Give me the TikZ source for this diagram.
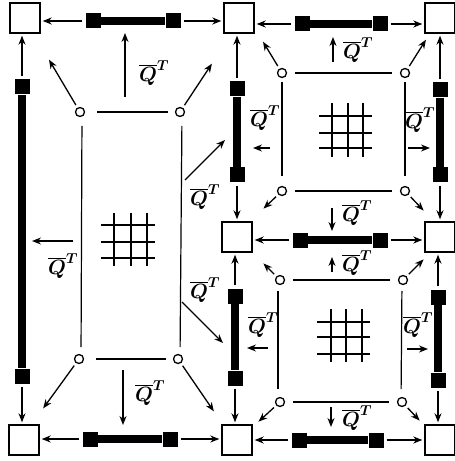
\documentclass[tikz,border=0pt]{standalone}
\usetikzlibrary{arrows.meta}
\begin{document}
\begin{tikzpicture}[x=1bp,y=-1bp,
 sq/.style={draw,line width=1.4bp,minimum size=30bp,inner sep=0pt},
 endcap/.style={fill=black,minimum size=15bp,inner sep=0pt},
 barline/.style={line width=8bp},
 circ/.style={draw,circle,line width=1.3bp,minimum size=9bp,inner sep=0pt},
 arr/.style={-{Stealth[length=9bp,width=7bp]},line width=1.3bp,shorten <=3bp,shorten >=2bp},
 lnk/.style={line width=1.2bp,shorten <=8bp,shorten >=8bp},
 gridl/.style={line width=1.8bp},
 lab/.style={inner sep=0pt,font=\fontsize{20}{20}\selectfont\boldmath},
]
\useasboundingbox (0,0) rectangle (455,461);
% squares
\node[sq] (sA1) at (25,18) {};
\node[sq] (sA2) at (239,18) {};
\node[sq] (sA3) at (440,18) {};
\node[sq] (sB2) at (237,237) {};
\node[sq] (sB3) at (440,237) {};
\node[sq] (sC1) at (24,440) {};
\node[sq] (sC2) at (237,440) {};
\node[sq] (sC3) at (440,440) {};
% bars
\node[endcap] (b1a) at (93,21) {};  \node[endcap] (b1b) at (173,21) {};
\node[endcap] (b2a) at (22,87) {};  \node[endcap] (b2b) at (22,376) {};
\node[endcap] (b3a) at (90,439) {}; \node[endcap] (b3b) at (170,439) {};
\node[endcap] (b4a) at (302,24) {}; \node[endcap] (b4b) at (380,24) {};
\node[endcap] (b5a) at (300,240) {}; \node[endcap] (b5b) at (380,240) {};
\node[endcap] (b6a) at (299,440) {}; \node[endcap] (b6b) at (376,440) {};
\node[endcap] (b7a) at (237,89) {}; \node[endcap] (b7b) at (237,175) {};
\node[endcap] (b8a) at (440,90) {}; \node[endcap] (b8b) at (440,175) {};
\node[endcap] (b9a) at (235,296) {}; \node[endcap] (b9b) at (235,378) {};
\node[endcap] (b10a) at (438,297) {}; \node[endcap] (b10b) at (438,380) {};
\foreach \n in {1,...,10} {\draw[barline] (b\n a) -- (b\n b);}
% bar to square arrows
\draw[arr] (b1a.west) -- (b1a.west -| sA1.east);
\draw[arr] (b1b.east) -- (b1b.east -| sA2.west);
\draw[arr] (b2a.north) -- (b2a.north |- sA1.south);
\draw[arr] (b2b.south) -- (b2b.south |- sC1.north);
\draw[arr] (b3a.west) -- (b3a.west -| sC1.east);
\draw[arr] (b3b.east) -- (b3b.east -| sC2.west);
\draw[arr] (b4a.west) -- (b4a.west -| sA2.east);
\draw[arr] (b4b.east) -- (b4b.east -| sA3.west);
\draw[arr] (b5a.west) -- (b5a.west -| sB2.east);
\draw[arr] (b5b.east) -- (b5b.east -| sB3.west);
\draw[arr] (b6a.west) -- (b6a.west -| sC2.east);
\draw[arr] (b6b.east) -- (b6b.east -| sC3.west);
\draw[arr] (b7a.north) -- (b7a.north |- sA2.south);
\draw[arr] (b7b.south) -- (b7b.south |- sB2.north);
\draw[arr] (b8a.north) -- (b8a.north |- sA3.south);
\draw[arr] (b8b.south) -- (b8b.south |- sB3.north);
\draw[arr] (b9a.north) -- (b9a.north |- sB2.south);
\draw[arr] (b9b.south) -- (b9b.south |- sC2.north);
\draw[arr] (b10a.north) -- (b10a.north |- sB3.south);
\draw[arr] (b10b.south) -- (b10b.south |- sC3.north);
% circles
\node[circ] (L1) at (80,112) {};  \node[circ] (L2) at (180,112) {};
\node[circ] (L3) at (79,359) {};  \node[circ] (L4) at (178,359) {};
\node[circ] (U1) at (282,73) {};  \node[circ] (U2) at (405,73) {};
\node[circ] (U3) at (282,191) {}; \node[circ] (U4) at (405,191) {};
\node[circ] (D1) at (280,280) {}; \node[circ] (D2) at (403,280) {};
\node[circ] (D3) at (280,402) {}; \node[circ] (D4) at (402,402) {};
% cell edges
\draw[lnk,shorten <=12bp,shorten >=7bp] (L1) -- (L2);
\draw[lnk,shorten <=12bp,shorten >=7bp] (L3) -- (L4);
\draw[lnk,shorten <=14bp,shorten >=12bp] ([xshift=2bp]L1.center) -- ([xshift=2bp]L3.center);
\draw[lnk,shorten <=14bp,shorten >=12bp] ([xshift=2bp]L2.center) -- ([xshift=2bp]L4.center);
\draw[lnk] (U1) -- (U2);
\draw[lnk] (U3) -- (U4);
\draw[lnk,shorten <=4bp,shorten >=10bp] (U1) -- (U3);
\draw[lnk,shorten <=4bp,shorten >=10bp] (U2) -- (U4);
\draw[lnk] (D1) -- (D2);
\draw[lnk] (D3) -- (D4);
\draw[lnk,shorten <=11bp,shorten >=13bp] ([xshift=-2bp]D1.center) -- ([xshift=-2bp]D3.center);
\draw[lnk,shorten <=11bp,shorten >=13bp] ([xshift=-1bp]D2.center) -- ([xshift=-1bp]D4.center);
% corner arrows from circles
\coordinate (cL1) at (48,58);   \draw[arr] (L1) -- (cL1);
\coordinate (cL2) at (213,62);  \draw[arr] (L2) -- (cL2);
\coordinate (cL3) at (42,410);  \draw[arr] (L3) -- (cL3);
\coordinate (cL4) at (215,413); \draw[arr] (L4) -- (cL4);
\coordinate (cU1) at (262,40);  \draw[arr] (U1) -- (cU1);
\coordinate (cU2) at (427,38);  \draw[arr] (U2) -- (cU2);
\coordinate (cU3) at (262,210); \draw[arr] (U3) -- (cU3);
\coordinate (cU4) at (425,212); \draw[arr] (U4) -- (cU4);
\coordinate (cD1) at (262,262); \draw[arr] (D1) -- (cD1);
\coordinate (cD2) at (425,258); \draw[arr] (D2) -- (cD2);
\coordinate (cD3) at (257,423); \draw[arr] (D3) -- (cD3);
\coordinate (cD4) at (421,422); \draw[arr] (D4) -- (cD4);
% labelled arrows
\tikzset{qa/.style={-{Stealth[length=9bp,width=7bp]},line width=1.3bp}}
\coordinate (p1) at (125,97);  \coordinate (q1) at (125,33);  \draw[qa] (p1) -- (q1);
\coordinate (p2) at (73,241);  \coordinate (q2) at (32,241);  \draw[qa] (p2) -- (q2);
\coordinate (p3) at (185,180); \coordinate (q3) at (225,140); \draw[qa] (p3) -- (q3);
\coordinate (p4) at (182,302); \coordinate (q4) at (223,343); \draw[qa] (p4) -- (q4);
\coordinate (p5) at (123,370); \coordinate (q5) at (123,425); \draw[qa] (p5) -- (q5);
\coordinate (p6) at (333,62);  \coordinate (q6) at (333,37);  \draw[qa] (p6) -- (q6);
\coordinate (p7) at (270,148); \coordinate (q7) at (253,148); \draw[qa] (p7) -- (q7);
\coordinate (p8) at (408,148); \coordinate (q8) at (430,148); \draw[qa] (p8) -- (q8);
\coordinate (p9) at (332,208); \coordinate (q9) at (332,231); \draw[qa] (p9) -- (q9);
\coordinate (p10) at (332,272); \coordinate (q10) at (332,257); \draw[qa] (p10) -- (q10);
\coordinate (p11) at (268,348); \coordinate (q11) at (247,348); \draw[qa] (p11) -- (q11);
\coordinate (p12) at (407,349); \coordinate (q12) at (428,349); \draw[qa] (p12) -- (q12);
\coordinate (p13) at (331,407); \coordinate (q13) at (331,427); \draw[qa] (p13) -- (q13);
% labels
\node[lab] (t1) at (154,73) {$\overline{Q}^T$};
\node[lab] (t2) at (63,266) {$\overline{Q}^T$};
\node[lab] (t3) at (205,197) {$\overline{Q}^T$};
\node[lab] (t4) at (205,290) {$\overline{Q}^T$};
\node[lab] (t5) at (150,393) {$\overline{Q}^T$};
\node[lab] (t6) at (358,50) {$\overline{Q}^T$};
\node[lab] (t7) at (265,118) {$\overline{Q}^T$};
\node[lab] (t8) at (420,120) {$\overline{Q}^T$};
\node[lab] (t9) at (357,213) {$\overline{Q}^T$};
\node[lab] (t10) at (357,263) {$\overline{Q}^T$};
\node[lab] (t11) at (263,325) {$\overline{Q}^T$};
\node[lab] (t12) at (418,325) {$\overline{Q}^T$};
\node[lab] (t13) at (357,418) {$\overline{Q}^T$};
% grids
\foreach \x in {114,131,147} \draw[gridl] (\x,213) -- (\x,266);
\foreach \y in {225,242,258} \draw[gridl] (101,\y) -- (155,\y);
\foreach \x in {332,348,363} \draw[gridl] (\x,103) -- (\x,157);
\foreach \y in {116,133,148} \draw[gridl] (319,\y) -- (372,\y);
\foreach \x in {331,346,362} \draw[gridl] (\x,309) -- (\x,362);
\foreach \y in {322,337,354} \draw[gridl] (317,\y) -- (370,\y);
\end{tikzpicture}
\end{document}
